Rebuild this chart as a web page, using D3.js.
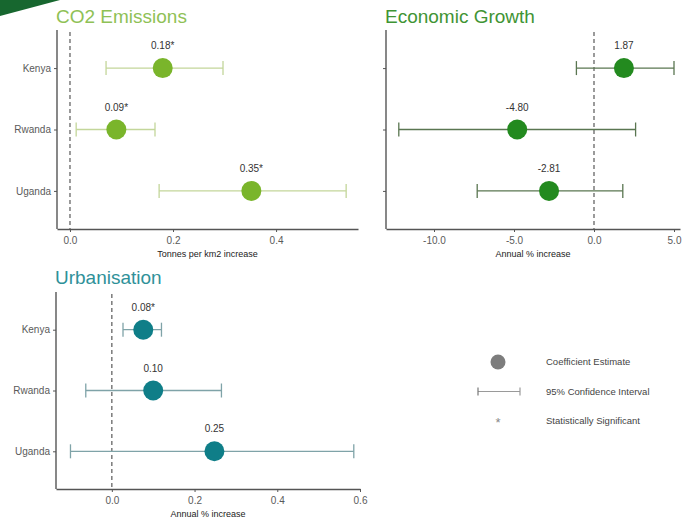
<!DOCTYPE html>
<html><head><meta charset="utf-8">
<script src="https://cdn.jsdelivr.net/npm/d3@7"></script>
<style>
html,body{margin:0;padding:0;background:#fff;}
svg{display:block;font-family:"Liberation Sans",Arial,sans-serif;}
</style></head>
<body>
<svg id="chart" width="684" height="521"></svg>
<script>
const countries = ["Kenya", "Rwanda", "Uganda"];

const co2Est = [0.18, 0.09, 0.352];
const co2Lo  = [0.07, 0.012, 0.173];
const co2Hi  = [0.297, 0.165, 0.536];
const co2Sig = [true, true, true];
const co2Ticks = [0.0, 0.2, 0.4];

const econEst = [1.87, -4.80, -2.81];
const econLo  = [-1.1, -12.2, -7.3];
const econHi  = [5.0, 2.6, 1.8];
const econSig = [false, false, false];
const econTicks = [-10.0, -5.0, 0.0, 5.0];

const urbEst = [0.076, 0.10, 0.248];
const urbLo  = [0.027, -0.063, -0.1];
const urbHi  = [0.12, 0.265, 0.585];
const urbSig = [true, false, false];
const urbTicks = [0.0, 0.2, 0.4, 0.6];

const legendLabels = ["Coefficient Estimate", "95% Confidence Interval", "Statistically Significant"];

const svg = d3.select("#chart");

// decorative corner band
svg.append("path").attr("d", "M0,0 L60,0 Q30,8 0,16 Z").attr("fill", "#17672f");

function panel(cfg) {
  const g = svg.append("g");
  const x = d3.scaleLinear().domain(cfg.xDomain).range([cfg.left, cfg.right]);
  const y = d3.scalePoint().domain(countries).range([cfg.top, cfg.bottom]).padding(0.62);

  // title
  g.append("text").attr("x", cfg.left - 1).attr("y", cfg.titleY)
    .attr("font-size", 19).attr("fill", cfg.titleColor).text(cfg.title);

  // x axis
  const xa = g.append("g").attr("transform", `translate(0,${cfg.bottom})`)
    .call(d3.axisBottom(x).tickValues(cfg.ticks).tickFormat(d => d.toFixed(1)).tickSize(3).tickSizeOuter(0));
  xa.select(".domain").attr("stroke", "#555").attr("stroke-width", 1.4);
  xa.selectAll(".tick line").attr("stroke", "#555");
  xa.selectAll(".tick text").attr("fill", "#5a5a5a").attr("font-size", 10).attr("dy", "0.85em")
    .attr("font-family", "Liberation Sans, Arial, sans-serif");

  // y axis
  const ya = g.append("g").attr("transform", `translate(${cfg.left},0)`)
    .call(d3.axisLeft(y).tickSize(3).tickSizeOuter(0).tickFormat(cfg.showY ? d => d : ""));
  ya.select(".domain").attr("stroke", "#555").attr("stroke-width", 1.4)
    .attr("d", `M0,${cfg.top}V${cfg.bottom}`);
  ya.selectAll(".tick line").attr("stroke", "#555");
  ya.selectAll(".tick text").attr("fill", "#5a5a5a").attr("font-size", 10)
    .attr("font-family", "Liberation Sans, Arial, sans-serif");

  // axis title
  g.append("text").attr("x", (cfg.left + cfg.right) / 2).attr("y", cfg.bottom + 28)
    .attr("text-anchor", "middle").attr("font-size", 9).attr("fill", "#222").text(cfg.xTitle);

  // zero line
  g.append("line").attr("x1", x(0)).attr("x2", x(0)).attr("y1", cfg.top + 2).attr("y2", cfg.bottom)
    .attr("stroke", "#666").attr("stroke-width", 1.3).attr("stroke-dasharray", "4,3");

  const rows = countries.map((c, i) => ({c, est: cfg.est[i], lo: cfg.lo[i], hi: cfg.hi[i], sig: cfg.sig[i]}));
  const r = g.selectAll(".row").data(rows).join("g");
  r.append("line").attr("x1", d => x(d.lo)).attr("x2", d => x(d.hi))
    .attr("y1", d => y(d.c)).attr("y2", d => y(d.c)).attr("stroke", cfg.barColor).attr("stroke-width", 1.3);
  r.append("line").attr("x1", d => x(d.lo)).attr("x2", d => x(d.lo))
    .attr("y1", d => y(d.c) - 7).attr("y2", d => y(d.c) + 7).attr("stroke", cfg.barColor).attr("stroke-width", 1.3);
  r.append("line").attr("x1", d => x(d.hi)).attr("x2", d => x(d.hi))
    .attr("y1", d => y(d.c) - 7).attr("y2", d => y(d.c) + 7).attr("stroke", cfg.barColor).attr("stroke-width", 1.3);
  r.append("circle").attr("cx", d => x(d.est)).attr("cy", d => y(d.c)).attr("r", 10)
    .attr("fill", cfg.dotColor);
  r.append("text").attr("x", d => x(d.est)).attr("y", d => y(d.c) - 19)
    .attr("text-anchor", "middle").attr("font-size", 10).attr("fill", "#333")
    .text(d => d.est.toFixed(2) + (d.sig ? "*" : ""));
}

panel({title: "CO2 Emissions", titleColor: "#8fc156", titleY: 23,
  left: 57, right: 358, top: 30, bottom: 229, xDomain: [-0.0252, 0.559],
  ticks: co2Ticks, xTitle: "Tonnes per km2 increase", showY: true,
  est: co2Est, lo: co2Lo, hi: co2Hi, sig: co2Sig,
  dotColor: "#7ab52b", barColor: "#c3d69a"});

panel({title: "Economic Growth", titleColor: "#3f9434", titleY: 23,
  left: 386, right: 680, top: 30, bottom: 229, xDomain: [-13, 5.375],
  ticks: econTicks, xTitle: "Annual % increase", showY: false,
  est: econEst, lo: econLo, hi: econHi, sig: econSig,
  dotColor: "#238a1f", barColor: "#5a7651"});

panel({title: "Urbanisation", titleColor: "#2f9199", titleY: 284,
  left: 56, right: 360, top: 292, bottom: 489, xDomain: [-0.135, 0.6],
  ticks: urbTicks, xTitle: "Annual % increase", showY: true,
  est: urbEst, lo: urbLo, hi: urbHi, sig: urbSig,
  dotColor: "#0f7e88", barColor: "#7fa3a8"});

// legend
const lg = svg.append("g");
const ly = d3.scalePoint().domain(legendLabels).range([362, 421]);
lg.append("circle").attr("cx", 498).attr("cy", ly(legendLabels[0])).attr("r", 7.5).attr("fill", "#7d7d7d");
const y2 = ly(legendLabels[1]);
lg.append("line").attr("x1", 478).attr("x2", 520).attr("y1", y2).attr("y2", y2).attr("stroke", "#9a9a9a").attr("stroke-width", 1.2);
lg.append("line").attr("x1", 478).attr("x2", 478).attr("y1", y2 - 4).attr("y2", y2 + 4).attr("stroke", "#777").attr("stroke-width", 1.2);
lg.append("line").attr("x1", 520).attr("x2", 520).attr("y1", y2 - 4).attr("y2", y2 + 4).attr("stroke", "#9a9a9a").attr("stroke-width", 1.2);
lg.append("text").attr("x", 498).attr("y", ly(legendLabels[2]) + 6).attr("text-anchor", "middle")
  .attr("font-size", 13).attr("fill", "#888").text("*");
lg.selectAll(".lt").data(legendLabels).join("text")
  .attr("x", 546).attr("y", d => ly(d)).attr("dy", "0.35em")
  .attr("font-size", 9.5).attr("fill", "#444").text(d => d);
</script>
</body></html>
